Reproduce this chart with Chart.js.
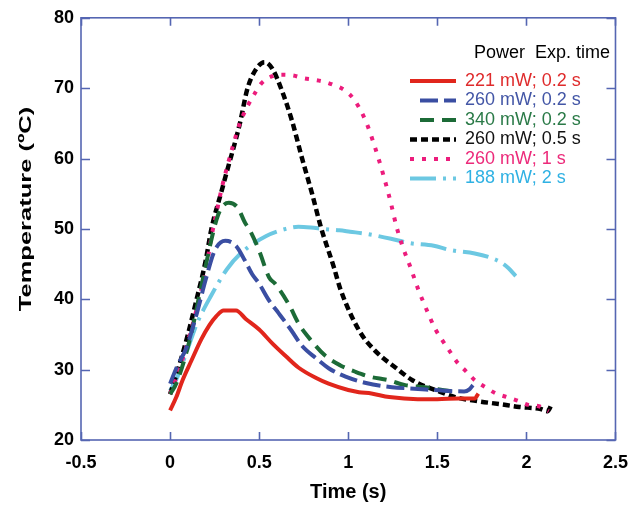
<!DOCTYPE html>
<html>
<head>
<meta charset="utf-8">
<script src="https://cdn.jsdelivr.net/npm/chart.js@4.4.1/dist/chart.umd.min.js"></script>
<style>
  html, body { margin: 0; padding: 0; background: #ffffff; }
  #wrap { width: 640px; height: 508px; }
</style>
</head>
<body>
<div id="wrap"><canvas id="c" width="640" height="508"></canvas></div>
<script>
// ---------- DATA ----------
const seriesLabels = ['221 mW; 0.2 s', '260 mW; 0.2 s', '340 mW; 0.2 s', '260 mW; 0.5 s', '260 mW; 1 s', '188 mW; 2 s'];
const legendHeader = 'Power  Exp. time';
const xTickLabels = ['-0.5', '0', '0.5', '1', '1.5', '2', '2.5'];
const yTickLabels = ['20', '30', '40', '50', '60', '70', '80'];
const xTitle = 'Time (s)';
const yTitle = 'Temperature (ºC)';

const redTime  = [0, 0.035, 0.07, 0.12, 0.175, 0.22, 0.26, 0.3, 0.37, 0.425, 0.5, 0.575, 0.65, 0.72, 0.82, 0.89, 1.0, 1.06, 1.13, 1.23, 1.39, 1.5, 1.62, 1.71, 1.73];
const redTemp  = [24.2, 26.1, 28.5, 31.3, 34.3, 36.3, 37.6, 38.4, 38.4, 37.2, 35.7, 33.7, 31.9, 30.3, 28.8, 28.0, 27.1, 26.8, 26.6, 26.1, 25.8, 25.8, 25.9, 25.9, 26.6];

const blueTime = [0, 0.04, 0.09, 0.15, 0.2, 0.25, 0.31, 0.37, 0.42, 0.46, 0.5, 0.556, 0.61, 0.68, 0.74, 0.82, 0.89, 0.985, 1.1, 1.245, 1.37, 1.54, 1.65, 1.68, 1.7];
const blueTemp = [28, 30.5, 33, 38, 42.8, 46.9, 48.3, 47.6, 45.5, 43.6, 42.2, 39.8, 38, 35.6, 33.4, 31.6, 30.2, 29.0, 28.1, 27.5, 27.3, 27.0, 26.9, 27.2, 27.8];

const greenTime = [0, 0.036, 0.11, 0.18, 0.27, 0.33, 0.38, 0.42, 0.45, 0.5, 0.556, 0.59, 0.67, 0.72, 0.79, 0.87, 0.956, 1.04, 1.12, 1.225, 1.32, 1.43, 1.56, 1.62];
const greenTemp = [26.5, 28.1, 34.2, 42.4, 52, 53.7, 53, 50.9, 49.7, 46.9, 43.1, 42.2, 39.1, 36.6, 34.2, 32, 30.6, 29.7, 29, 28.5, 27.8, 27.5, 27.0, 26.8];

const blackTime = [0, 0.05, 0.1, 0.147, 0.2, 0.232, 0.287, 0.315, 0.39, 0.435, 0.48, 0.53, 0.573, 0.63, 0.685, 0.74, 0.797, 0.847, 0.92, 0.955, 1.06, 1.15, 1.27, 1.36, 1.52, 1.6, 1.73, 1.85, 1.96, 2.08, 2.12, 2.14];
const blackTemp = [26.5, 30.5, 35, 39.8, 45.5, 50, 55.2, 57.8, 64.8, 70, 72.6, 73.7, 72.8, 69.5, 65.3, 60.1, 55, 50.2, 44.5, 41.5, 35.6, 32.7, 30.2, 28.5, 26.8, 26.1, 25.5, 25.1, 24.7, 24.4, 24.1, 25.0];

const pinkTime = [0, 0.05, 0.1, 0.174, 0.21, 0.23, 0.258, 0.29, 0.32, 0.354, 0.39, 0.44, 0.472, 0.51, 0.574, 0.634, 0.69, 0.75, 0.807, 0.867, 0.923, 0.98, 1.035, 1.1, 1.15, 1.2, 1.241, 1.27, 1.305, 1.35, 1.39, 1.44, 1.49, 1.53, 1.57, 1.61, 1.66, 1.71, 1.77, 1.83, 1.89, 1.95, 2.01, 2.07, 2.125];
const pinkTemp = [26.5, 30, 34, 41.2, 45.5, 48.6, 52, 55.8, 58.8, 61.9, 64.9, 67.7, 69.1, 70.6, 71.7, 71.9, 71.8, 71.4, 71.2, 70.9, 70.4, 69.7, 68.3, 65.2, 61.6, 57.4, 53.5, 50.4, 47.5, 44.5, 41.6, 38.5, 35.7, 34.1, 32.6, 31.1, 29.8, 28.5, 27.5, 26.6, 26.1, 25.6, 25.0, 24.8, 24.1];

const cyanTime = [0, 0.04, 0.09, 0.15, 0.23, 0.32, 0.4, 0.54, 0.65, 0.72, 0.79, 0.86, 0.95, 1.01, 1.1, 1.24, 1.34, 1.48, 1.57, 1.71, 1.8, 1.86, 1.9, 1.94];
const cyanTemp = [27, 28.9, 32.3, 36.5, 40.5, 44.3, 46.6, 49, 50, 50.3, 50.2, 50, 49.8, 49.6, 49.3, 48.6, 48, 47.6, 47, 46.5, 45.9, 45.2, 44.4, 43.3];

// ---------- STYLES ----------
const styles = [
  { color: '#e1261c', text: '#df2b2c', dash: [],            width: 4,   order: 0 },
  { color: '#3a4ea2', text: '#4356a6', dash: [18, 6],       width: 4,   order: 1 },
  { color: '#1c6b37', text: '#2a7a47', dash: [14, 8],       width: 4,   order: 2 },
  { color: '#000000', text: '#111111', dash: [7, 4],        width: 4.5, order: 4 },
  { color: '#ec1c7c', text: '#ec2a7a', dash: [4, 8],        width: 4,   order: 3 },
  { color: '#6cc8e2', text: '#2fb1e3', dash: [26, 7, 3, 7], width: 4,   order: 5 }
];
const axisColor = '#5566b2';

function pts(tArr, vArr) { return tArr.map((t, i) => ({ x: t, y: vArr[i] })); }
const seriesData = [
  pts(redTime, redTemp), pts(blueTime, blueTemp), pts(greenTime, greenTemp),
  pts(blackTime, blackTemp), pts(pinkTime, pinkTemp), pts(cyanTime, cyanTemp)
];

const FONT = '"Liberation Sans", Arial, Helvetica, sans-serif';

const framePlugin = {
  id: 'frame',
  afterDraw(chart) {
    const ctx = chart.ctx;
    const { left, right, top, bottom } = chart.chartArea;
    const xs = chart.scales.x, ys = chart.scales.y;
    ctx.save();
    ctx.strokeStyle = axisColor;
    ctx.lineWidth = 1.6;
    ctx.setLineDash([]);
    ctx.strokeRect(left, top, right - left, bottom - top);
    ctx.beginPath();
    xTickLabels.forEach(l => {
      const px = Math.round(xs.getPixelForValue(parseFloat(l))) + 0.5;
      ctx.moveTo(px, bottom); ctx.lineTo(px, bottom - 8);
      ctx.moveTo(px, top); ctx.lineTo(px, top + 8);
    });
    yTickLabels.forEach(l => {
      const py = Math.round(ys.getPixelForValue(parseFloat(l))) + 0.5;
      ctx.moveTo(left, py); ctx.lineTo(left + 9, py);
      ctx.moveTo(right, py); ctx.lineTo(right - 9, py);
    });
    ctx.stroke();

    // axis titles
    ctx.fillStyle = '#000';
    ctx.font = 'bold 20px ' + FONT;
    ctx.textAlign = 'center';
    ctx.textBaseline = 'middle';
    ctx.fillText(xTitle, (left + right) / 2, 492);
    ctx.save();
    ctx.translate(26, 209);
    ctx.rotate(-Math.PI / 2);
    ctx.scale(1.5, 1);
    ctx.font = 'bold 17px ' + FONT;
    ctx.fillText(yTitle, 0, 0);
    ctx.restore();

    // legend
    ctx.font = '18px ' + FONT;
    ctx.textAlign = 'left';
    ctx.textBaseline = 'middle';
    ctx.fillStyle = '#000';
    ctx.fillText(legendHeader, 474, 53);
    const rowY = [81, 100.5, 120, 139.5, 159, 178.5];
    seriesLabels.forEach((lab, i) => {
      const st = styles[i];
      const x0 = (i === 1 || i === 2) ? 420 : 410;
      ctx.strokeStyle = st.color;
      ctx.lineWidth = st.width;
      ctx.lineCap = 'butt';
      ctx.setLineDash(st.dash);
      ctx.beginPath();
      ctx.moveTo(x0, rowY[i]); ctx.lineTo(456, rowY[i]);
      ctx.stroke();
      ctx.setLineDash([]);
      ctx.fillStyle = st.text;
      ctx.fillText(lab, 465, rowY[i]);
    });
    ctx.restore();
  }
};

new Chart(document.getElementById('c'), {
  type: 'line',
  data: {
    datasets: seriesLabels.map((lab, i) => ({
      label: lab,
      data: seriesData[i],
      borderColor: styles[i].color,
      borderWidth: styles[i].width,
      borderDash: styles[i].dash,
      borderCapStyle: 'butt',
      pointRadius: 0,
      fill: false,
      tension: 0.35,
      cubicInterpolationMode: 'monotone',
      order: styles[i].order
    }))
  },
  options: {
    responsive: false,
    animation: false,
    events: [],
    layout: { padding: { top: 16, right: 22, left: 0, bottom: 0 } },
    plugins: { legend: { display: false }, tooltip: { enabled: false }, title: { display: false } },
    scales: {
      x: {
        type: 'linear', min: -0.5, max: 2.5,
        grid: { display: false, drawTicks: false },
        border: { display: false },
        afterFit(s) { s.height = 68; },
        ticks: {
          stepSize: 0.5, padding: 12, color: '#000',
          font: { family: FONT, size: 18, weight: 'bold' },
          callback: (v) => { const i = xTickLabels.findIndex(l => Math.abs(parseFloat(l) - v) < 1e-9); return i >= 0 ? xTickLabels[i] : ''; },
          maxRotation: 0, autoSkip: false
        }
      },
      y: {
        type: 'linear', min: 20, max: 80,
        grid: { display: false, drawTicks: false },
        border: { display: false },
        afterFit(s) { s.width = 81; },
        ticks: {
          stepSize: 10, padding: 7, color: '#000',
          font: { family: FONT, size: 18, weight: 'bold' },
          callback: (v) => { const i = yTickLabels.findIndex(l => Math.abs(parseFloat(l) - v) < 1e-9); return i >= 0 ? yTickLabels[i] : ''; }
        }
      }
    }
  },
  plugins: [framePlugin]
});
</script>
</body>
</html>
